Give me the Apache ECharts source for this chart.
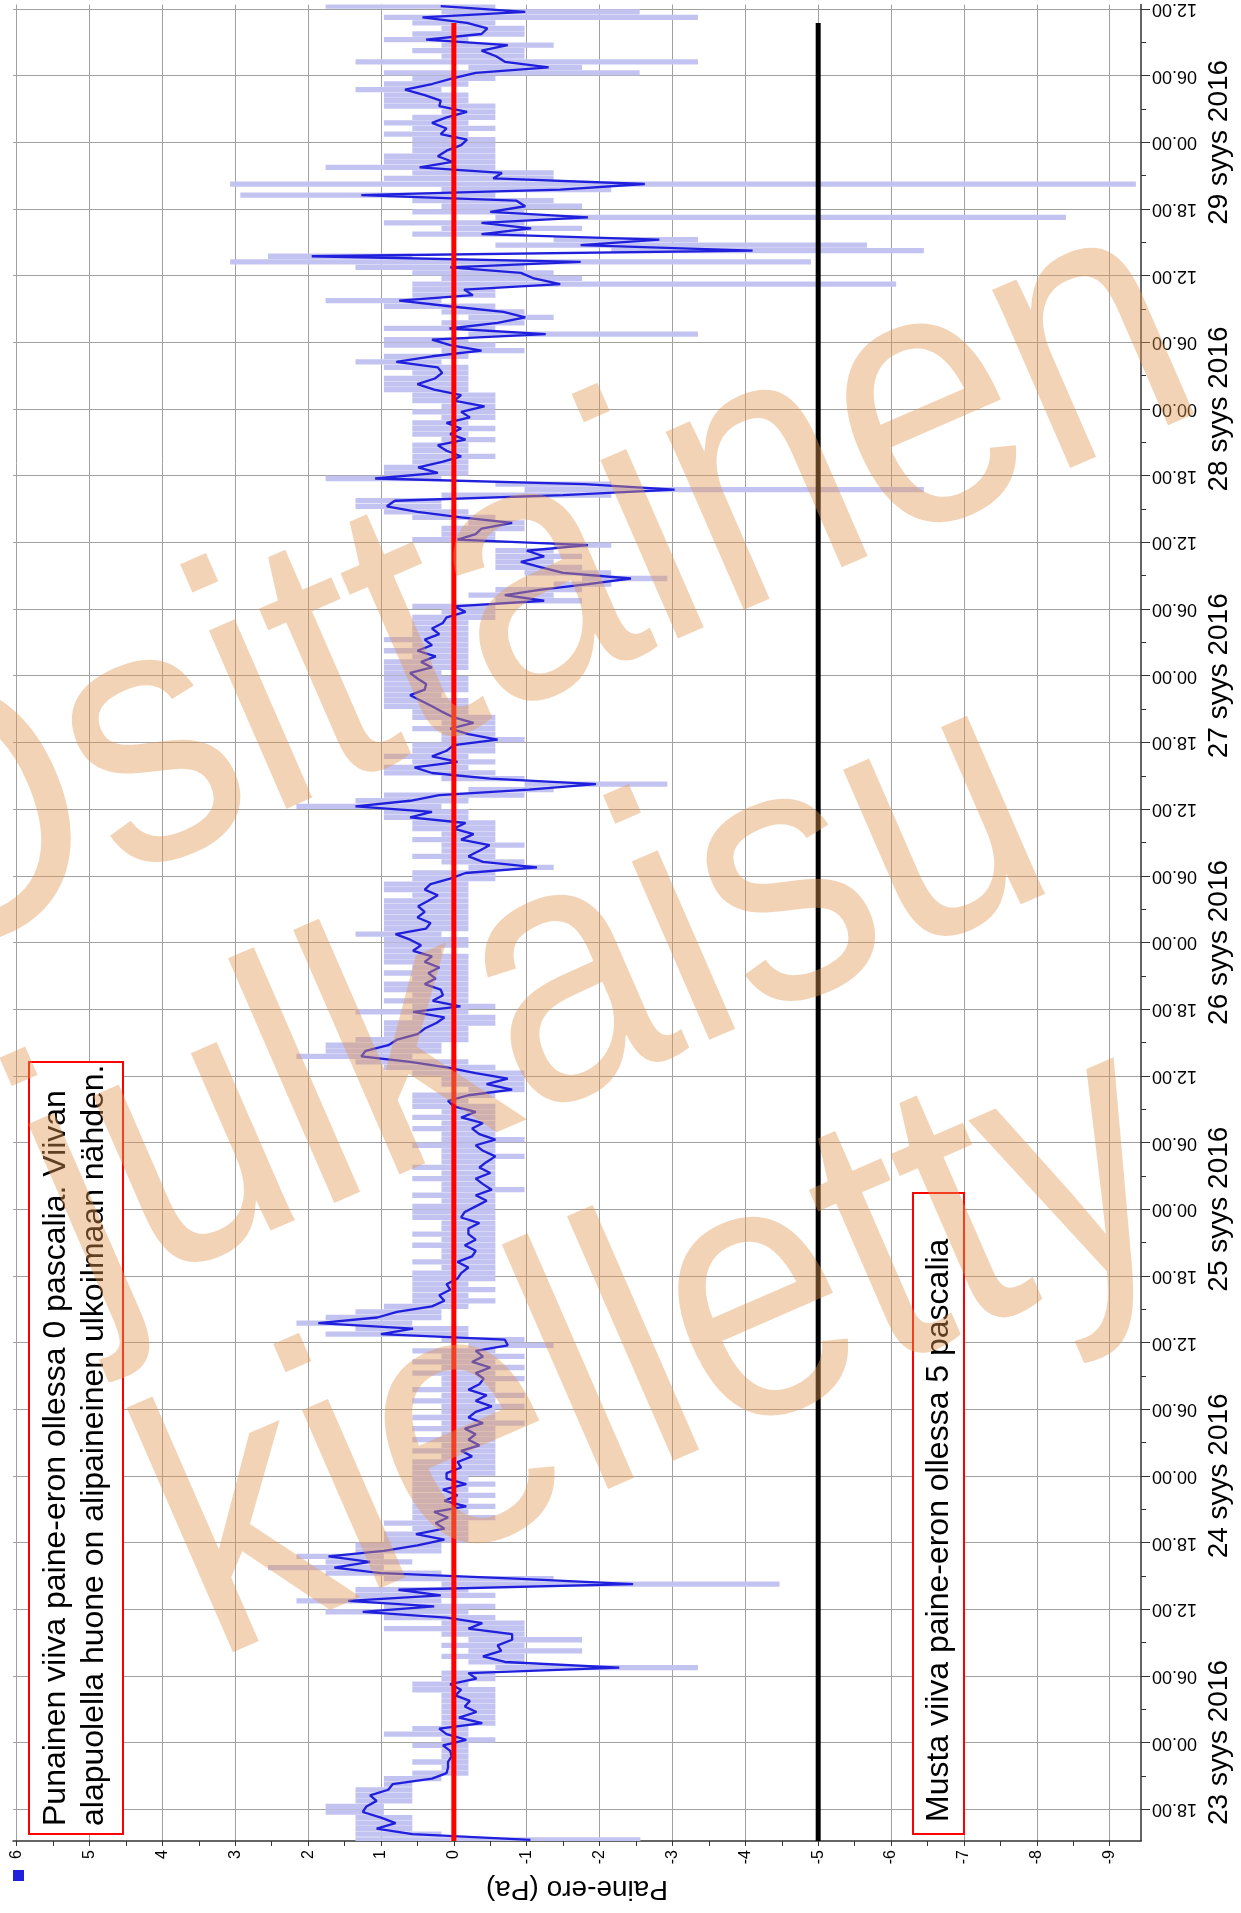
<!DOCTYPE html>
<html><head><meta charset="utf-8">
<script src="https://cdn.jsdelivr.net/npm/echarts@6/dist/echarts.min.js"></script>
<style>html,body{margin:0;padding:0;background:#fff}#c{width:1241px;height:1913px}</style>
</head><body><div id="c"></div>
<script>
// ---- data: half-hour samples, hours counted from 00.00 of the first labelled day ----
const startHour = -8.75;
const stepHours = 0.5;
// mean pressure difference (Pa), 12 samples (6 h) per row
const avgPa = [
  -1.05,0.57,1.06,0.8,1.0,1.25,1.2,1.06,1.15,0.9,0.84,0.3,
  0.1,0.08,0.08,0.03,0.05,0.15,-0.17,0.1,0.2,-0.39,-0.07,-0.31,
  -0.15,-0.22,-0.02,-0.1,0.05,-0.31,-0.2,-2.27,-0.7,-0.4,-0.65,-0.6,
  -0.8,-0.8,-0.2,-0.39,0.1,1.25,0.27,1.45,0.18,0.76,-2.46,-0.85,
  1.0,1.64,1.15,1.72,0.96,0.5,0.13,0.52,0.13,0.25,0.08,0.27,
  -0.17,0.13,-0.05,0.15,-0.17,0.1,0.1,-0.1,-0.05,-0.25,-0.1,-0.35,
  -0.2,-0.3,-0.15,-0.4,-0.2,-0.3,-0.52,-0.3,-0.45,-0.2,-0.35,-0.41,
  -0.3,-0.5,-0.25,-0.4,-0.3,-0.74,-0.7,1.0,0.56,1.86,1.05,0.78,
  0.3,0.13,0.2,0.05,0.1,-0.05,-0.1,-0.2,-0.05,-0.25,-0.3,-0.15,
  -0.3,-0.2,-0.2,-0.35,-0.1,-0.15,-0.3,-0.45,-0.3,-0.52,-0.4,-0.3,
  -0.5,-0.35,-0.45,-0.57,-0.4,-0.3,-0.57,-0.35,-0.25,-0.4,-0.1,-0.3,
  0.0,0.08,-0.2,-0.8,-0.45,-0.74,-0.3,0.1,0.6,1.27,1.21,0.9,
  0.78,0.5,0.4,0.24,0.13,0.56,-0.09,0.29,0.15,0.18,0.4,0.25,
  0.35,0.2,0.4,0.3,0.56,0.45,0.6,0.8,0.38,0.32,0.5,0.4,
  0.49,0.35,0.22,0.4,0.32,0.05,-0.16,-1.14,-0.4,-0.2,-0.35,-0.49,
  -0.1,-0.27,0.0,-0.16,0.6,0.3,1.35,0.6,0.2,-1.03,-1.95,-0.5,
  0.3,0.54,-0.05,0.3,0.1,0.0,-0.6,-0.2,0.05,-0.27,0.0,0.16,
  0.3,0.45,0.6,0.4,0.38,0.5,0.6,0.3,0.45,0.25,0.5,0.3,
  0.4,0.2,0.3,0.15,0.1,-0.16,0.0,-1.24,-0.7,-1.2,-1.84,-2.43,
  -1.5,-1.2,-0.92,-1.24,-1.0,-1.84,-0.05,-0.3,-0.38,-0.8,-0.1,0.5,
  0.92,0.81,-1.5,-3.03,-1.79,1.08,0.22,0.49,0.16,-0.1,0.1,0.22,
  -0.16,0.05,-0.1,0.1,-0.22,-0.1,-0.42,0.0,-0.1,0.27,0.5,0.26,
  0.16,0.22,0.79,0.3,-0.38,0.05,0.3,-1.26,0.06,-0.6,-0.98,-0.68,
  0.06,0.75,-0.26,-0.14,-1.46,-1.1,-0.92,0.05,-1.74,1.95,-4.1,-1.74,
  -2.82,-0.38,-1.06,-0.38,-1.84,-0.5,-0.98,-0.86,1.27,-1.46,-2.62,-0.54,
  -0.66,0.47,0.02,0.22,0.1,-0.1,-0.18,0.18,0.1,0.3,0.1,-0.18,
  0.2,0.18,0.4,0.67,0.3,0.02,-0.3,-1.3,-0.7,-0.58,-0.38,-0.74,
  0.38,-0.38,-0.46,-0.18,0.43,-0.98,0.18
];
// lowest value in each half hour (Pa)
const minPa = [
  -2.56,0.17,0.57,0.57,0.57,0.96,0.96,0.57,0.57,0.57,0.57,0.17,
  -0.2,-0.2,-0.2,-0.2,-0.2,-0.2,-0.57,-0.2,-0.2,-0.57,-0.57,-0.57,
  -0.57,-0.57,-0.57,-0.57,-0.2,-0.57,-0.57,-3.35,-0.97,-0.97,-1.76,-0.97,
  -1.76,-0.97,-0.97,-0.97,-0.57,-0.2,-0.57,0.17,-0.57,-0.2,-4.47,-1.37,
  0.17,0.96,0.57,0.96,0.17,0.17,-0.2,-0.2,-0.2,-0.2,-0.57,-0.2,
  -0.57,-0.2,-0.57,-0.2,-0.57,-0.2,-0.57,-0.57,-0.57,-0.57,-0.57,-0.57,
  -0.57,-0.57,-0.57,-0.97,-0.57,-0.57,-0.97,-0.57,-0.97,-0.57,-0.57,-0.97,
  -0.57,-0.97,-0.57,-0.97,-0.57,-1.37,-0.97,-0.2,-0.2,0.57,0.17,0.17,
  -0.2,-0.57,-0.2,-0.57,-0.2,-0.57,-0.57,-0.57,-0.57,-0.57,-0.57,-0.57,
  -0.57,-0.57,-0.57,-0.57,-0.57,-0.57,-0.57,-0.57,-0.57,-0.97,-0.57,-0.57,
  -0.57,-0.57,-0.57,-0.97,-0.57,-0.57,-0.97,-0.57,-0.57,-0.57,-0.57,-0.57,
  -0.57,-0.2,-0.57,-0.97,-0.97,-0.97,-0.97,-0.57,-0.2,0.57,0.17,0.17,
  -0.2,-0.2,-0.2,-0.57,-0.57,-0.2,-0.57,-0.2,-0.2,-0.2,-0.2,-0.2,
  -0.2,-0.2,-0.2,-0.2,0.17,-0.2,-0.2,0.17,-0.2,-0.2,-0.2,-0.2,
  -0.2,-0.2,-0.2,-0.2,-0.2,-0.57,-0.57,-1.37,-0.97,-0.57,-0.57,-0.97,
  -0.57,-0.57,-0.57,-0.57,-0.2,-0.2,0.17,-0.2,-0.97,-1.37,-2.93,-0.97,
  -0.57,-0.2,-0.57,-0.2,-0.57,-0.57,-0.97,-0.57,-0.57,-0.57,-0.57,-0.2,
  -0.2,-0.2,0.17,-0.2,-0.2,-0.2,0.17,-0.2,-0.2,-0.2,-0.2,-0.2,
  -0.2,-0.2,-0.2,-0.2,-0.57,-0.57,-0.57,-1.76,-1.37,-1.76,-2.16,-2.93,
  -2.16,-1.76,-1.37,-1.76,-1.37,-2.16,-0.57,-0.57,-0.97,-0.97,-0.57,-0.2,
  0.17,0.17,-2.16,-6.45,-2.16,0.17,-0.2,-0.2,-0.2,-0.57,-0.2,-0.2,
  -0.57,-0.2,-0.57,-0.2,-0.57,-0.57,-0.57,-0.57,-0.57,-0.2,-0.2,-0.2,
  -0.2,-0.2,0.17,-0.2,-0.97,-0.57,-0.2,-3.35,-0.57,-0.97,-1.37,-0.97,
  -0.57,0.17,-0.57,-0.57,-6.07,-1.76,-1.37,-0.97,-4.9,0.57,-6.45,-5.67,
  -3.35,-0.97,-1.76,-0.97,-8.4,-0.97,-1.76,-1.37,-0.57,-2.16,-9.36,-1.37,
  -1.37,-0.57,-0.57,-0.57,-0.57,-0.57,-0.57,-0.2,-0.57,-0.2,-0.57,-0.57,
  -0.57,-0.2,-0.2,0.17,-0.2,-0.57,-2.55,-1.76,-3.35,-0.97,-0.97,-1.37,
  -0.2,-0.97,-0.97,-0.57,-3.35,-2.55,-0.57
];
// highest value in each half hour (Pa)
const maxPa = [
  1.35,1.35,1.35,1.35,1.35,1.76,1.76,1.35,1.35,1.35,0.96,0.96,
  0.57,0.17,0.57,0.17,0.17,0.57,0.17,0.96,0.57,0.17,0.17,0.17,
  0.17,0.17,0.17,0.57,0.57,0.17,0.17,-0.57,-0.2,0.17,-0.2,0.17,
  -0.2,0.17,0.96,0.17,0.96,1.76,0.96,2.16,1.35,1.35,0.17,0.96,
  1.76,2.55,1.76,2.16,1.35,1.35,0.96,0.96,0.57,0.96,0.57,0.57,
  0.57,0.57,0.57,0.57,0.57,0.57,0.57,0.57,0.57,0.17,0.57,0.17,
  0.57,0.17,0.57,0.17,0.57,0.17,0.17,0.57,0.17,0.57,0.17,0.17,
  0.57,0.17,0.57,0.17,0.57,-0.2,0.17,1.76,1.35,2.16,1.76,1.35,
  0.96,0.57,0.57,0.57,0.57,0.57,0.57,0.17,0.57,0.17,0.17,0.57,
  0.17,0.57,0.17,0.17,0.57,0.57,0.57,0.17,0.57,0.17,0.17,0.57,
  0.17,0.57,0.17,0.17,0.17,0.57,0.17,0.17,0.57,0.17,0.57,0.17,
  0.57,0.57,0.57,-0.2,0.17,0.17,0.57,0.96,1.35,2.16,1.76,1.76,
  1.35,0.96,0.96,0.96,0.57,1.35,0.57,0.96,0.57,0.96,0.96,0.57,
  0.96,0.57,0.96,0.96,0.96,0.96,0.96,1.35,0.96,0.96,0.96,0.96,
  0.96,0.96,0.57,0.96,0.96,0.57,0.57,-0.2,0.17,0.57,0.17,0.17,
  0.57,0.17,0.57,0.57,0.96,0.96,2.16,1.35,0.96,-0.2,-0.97,0.17,
  0.96,0.96,0.57,0.96,0.57,0.57,0.17,0.17,0.57,0.17,0.57,0.57,
  0.96,0.96,0.96,0.96,0.96,0.96,0.96,0.96,0.96,0.57,0.96,0.57,
  0.96,0.57,0.57,0.57,0.57,0.17,0.57,-0.57,-0.2,-0.57,-1.37,-1.76,
  -0.97,-0.57,-0.57,-0.57,-0.57,-1.37,0.57,0.17,0.17,-0.2,0.57,0.96,
  1.35,1.35,0.17,-0.97,-0.57,1.76,0.96,0.96,0.57,0.57,0.57,0.57,
  0.17,0.57,0.57,0.57,0.17,0.57,0.17,0.57,0.57,0.96,0.96,0.96,
  0.57,0.96,1.35,0.96,0.17,0.96,0.96,-0.2,0.96,0.17,-0.2,0.17,
  0.96,1.76,0.57,0.57,0.57,0.17,0.57,1.35,3.07,2.55,-2.16,-0.57,
  -1.37,0.57,0.17,0.96,-0.57,0.57,0.17,0.57,2.93,0.17,3.07,0.96,
  0.57,1.76,0.96,0.96,0.57,0.57,0.57,0.96,0.57,0.96,0.57,0.17,
  0.96,0.96,0.96,1.35,0.96,0.57,0.96,-0.2,1.35,0.17,0.57,0.17,
  0.96,0.57,0.17,0.57,0.96,0.17,1.76
];
const hourTicks = [-6,0,6,12,18,24,30,36,42,48,54,60,66,72,78,84,90,96,102,108,114,120,126,132,138,144,150,156];
const minorHourTicks = [-3,3,9,15,21,27,33,39,45,51,57,63,69,75,81,87,93,99,105,111,117,123,129,135,141,147,153];
const dayTicks = [0,24,48,72,96,120,144];
const dayLabels = ['23 syys 2016','24 syys 2016','25 syys 2016','26 syys 2016','27 syys 2016','28 syys 2016','29 syys 2016'];
const paTicks = [-9,-8,-7,-6,-5,-4,-3,-2,-1,0,1,2,3,4,5,6];
const paMinorTicks = [-8.5,-7.5,-6.5,-5.5,-4.5,-3.5,-2.5,-1.5,-0.5,0.5,1.5,2.5,3.5,4.5,5.5];
const zeroLinePa = 0, fiveLinePa = -5, refLineEndHour = 154.75;
const axisName = 'Paine-ero (Pa)';
const note1 = ['Punainen viiva paine-eron ollessa 0 pascalia. Viivan', 'alapuolella huone on alipaineinen ulkoilmaan nähden.'];
const note2 = 'Musta viiva paine-eron ollessa 5 pascalia';
const watermark = ['Osittainen', 'julkaisu', 'kielletty'];

const H_MIN = -8.86, H_MAX = 156.4, PA_MIN = -9.43, PA_MAX = 6.05;
const FONT = '"Liberation Sans", Arial, Helvetica, sans-serif';

const nPts = Math.min(avgPa.length, minPa.length, maxPa.length);
const hours = [];
for (let i = 0; i < nPts; i++) hours.push(startHour + i * stepHours);
const lineData = hours.map((h, i) => [avgPa[i], h]);
const rangeData = hours.map((h, i) => [minPa[i], maxPa[i], h]);
const pad2 = n => (n < 10 ? '0' : '') + n;
const hourFmt = v => pad2(((Math.round(v) % 24) + 24) % 24) + '.00';

const chart = echarts.init(document.getElementById('c'), null, {renderer: 'canvas'});
const baseY = {
  type: 'value', position: 'right', min: H_MIN, max: H_MAX,
  axisLine: {show: false, onZero: false}, axisTick: {show: false}, axisLabel: {show: false}, splitLine: {show: false}
};
const baseX = {
  type: 'value', position: 'bottom', inverse: true, min: PA_MIN, max: PA_MAX,
  axisLine: {show: false, onZero: false}, axisTick: {show: false}, axisLabel: {show: false}, splitLine: {show: false}
};
const wmColor = 'rgba(226,150,80,0.42)';
const wmFont = '320px ' + FONT;
const wmRot = 23.5 * Math.PI / 180;
const option = {
  animation: false,
  backgroundColor: '#fff',
  textStyle: {fontFamily: FONT},
  grid: {left: 13, right: 100, top: 0, bottom: 72, containLabel: false},
  xAxis: [
    Object.assign({}, baseX, {
      axisLine: {show: true, onZero: false, lineStyle: {color: '#333', width: 1.5}},
      axisTick: {show: true, customValues: paTicks, length: 5, lineStyle: {color: '#333'}},
      axisLabel: {show: true, customValues: paTicks, rotate: 90, fontSize: 16, color: '#000', margin: 9, formatter: v => String(v)},
      splitLine: {show: true, lineStyle: {color: '#a0a0a0', width: 1}},
      name: axisName, nameLocation: 'middle', nameGap: 34, nameRotate: 180,
      nameTextStyle: {fontSize: 28, color: '#000'}
    }),
    Object.assign({}, baseX, {
      axisTick: {show: true, customValues: paMinorTicks, length: 5, lineStyle: {color: '#333'}}
    })
  ],
  yAxis: [
    Object.assign({}, baseY, {
      axisLine: {show: true, onZero: false, lineStyle: {color: '#333', width: 1.5}},
      axisTick: {show: true, customValues: hourTicks, length: 9, lineStyle: {color: '#333'}},
      axisLabel: {show: true, customValues: hourTicks, rotate: 180, fontSize: 18, color: '#000', margin: 11, formatter: hourFmt},
      splitLine: {show: true, lineStyle: {color: '#a0a0a0', width: 1.2}}
    }),
    Object.assign({}, baseY, {
      axisTick: {show: true, customValues: minorHourTicks, length: 5, lineStyle: {color: '#333'}}
    }),
    Object.assign({}, baseY, {
      axisLabel: {show: true, customValues: dayTicks, rotate: 90, fontSize: 28, color: '#000', margin: 64,
        formatter: v => dayLabels[dayTicks.indexOf(Math.round(v))] || ''}
    })
  ],
  series: [
    {
      type: 'custom', name: 'range', xAxisIndex: 0, yAxisIndex: 0, clip: true, z: 2,
      data: rangeData,
      encode: {x: [0, 1], y: 2},
      renderItem: function (params, api) {
        const a = api.coord([api.value(0), api.value(2)]);
        const b = api.coord([api.value(1), api.value(2)]);
        const hgt = Math.abs(api.size([0, stepHours])[1]) * 0.95;
        return {type: 'rect', shape: {x: Math.min(a[0], b[0]), y: a[1] - hgt / 2, width: Math.max(1, Math.abs(b[0] - a[0])), height: hgt},
          style: {fill: '#c3c3f2'}};
      }
    },
    {
      type: 'line', name: 'avg', xAxisIndex: 0, yAxisIndex: 0, data: lineData, showSymbol: false, symbol: 'none',
      lineStyle: {color: '#1f1fdc', width: 2.3}, z: 3, clip: true
    },
    {
      type: 'line', name: 'zero', data: [[zeroLinePa, H_MIN], [zeroLinePa, refLineEndHour]], symbol: 'none',
      lineStyle: {color: '#ff0000', width: 5}, z: 4
    },
    {
      type: 'line', name: 'five', data: [[fiveLinePa, H_MIN], [fiveLinePa, refLineEndHour]], symbol: 'none',
      lineStyle: {color: '#000000', width: 5}, z: 4
    }
  ],
  graphic: {elements: [
    {type: 'rect', z: 100, shape: {x: 13, y: 1870, width: 11, height: 11}, style: {fill: '#2020dd'}},
    {type: 'rect', z: 100, shape: {x: 29, y: 1062, width: 94, height: 772}, style: {fill: '#fff', stroke: '#ff0000', lineWidth: 2}},
    {type: 'text', z: 101, x: 56, y: 1826, rotation: Math.PI / 2,
      style: {text: note1[0], font: '32px ' + FONT, fill: '#000', textAlign: 'left', textVerticalAlign: 'middle'}},
    {type: 'text', z: 101, x: 94, y: 1826, rotation: Math.PI / 2,
      style: {text: note1[1], font: '32px ' + FONT, fill: '#000', textAlign: 'left', textVerticalAlign: 'middle'}},
    {type: 'rect', z: 100, shape: {x: 913, y: 1193, width: 51, height: 641}, style: {fill: '#fff', stroke: '#ff0000', lineWidth: 2}},
    {type: 'text', z: 101, x: 939, y: 1822, rotation: Math.PI / 2,
      style: {text: note2, font: '32px ' + FONT, fill: '#000', textAlign: 'left', textVerticalAlign: 'middle'}},
    {type: 'text', z: 200, x: 512, y: 600, rotation: wmRot, scaleY: 1.15,
      style: {text: watermark[0], font: wmFont, fill: wmColor, textAlign: 'center', textVerticalAlign: 'middle'}},
    {type: 'text', z: 200, x: 535, y: 1005, rotation: wmRot, scaleY: 1.15,
      style: {text: watermark[1], font: wmFont, fill: wmColor, textAlign: 'center', textVerticalAlign: 'middle'}},
    {type: 'text', z: 200, x: 662, y: 1355, rotation: wmRot, scaleY: 1.15,
      style: {text: watermark[2], font: wmFont, fill: wmColor, textAlign: 'center', textVerticalAlign: 'middle'}}
  ]}
};
chart.setOption(option);
</script></body></html>
